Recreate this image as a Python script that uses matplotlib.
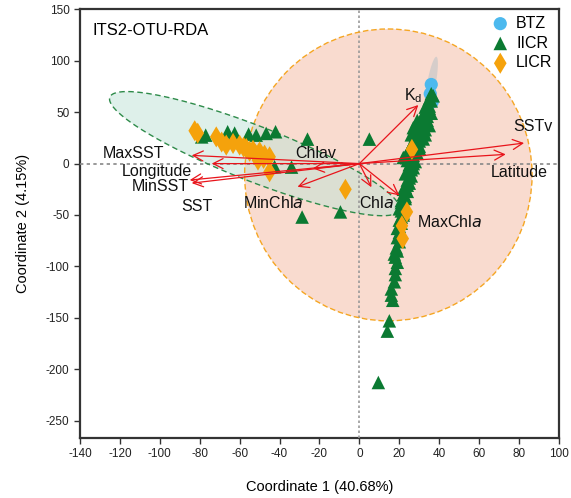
import matplotlib.pyplot as plt
import matplotlib
import numpy as np
from matplotlib.patches import Ellipse, Polygon

matplotlib.rcParams['font.family'] = ['Liberation Sans', 'DejaVu Sans']
matplotlib.rcParams['axes.unicode_minus'] = False

# sample scores
btz_x = [36, 35.5, 36.5]
btz_y = [77, 68, 60]

iicr_x = [-77, -79, -66, -62.5, -55.5, -51.7, -46.7, -42, -26, -34, -42.5, -28.7, -9.5, 5,
          36, 35, 34, 35, 33, 34, 32, 31, 33, 30, 32, 29, 28, 31, 27, 29, 26, 30, 25, 28,
          24, 27, 22, 26, 28, 25, 27, 25, 26, 24, 25, 23, 24, 22, 23, 21, 22, 21, 22, 20,
          21, 19, 20, 19, 20, 19, 18, 19, 18, 17.5, 16.7, 16, 15, 14, 9.5,
          33, 32, 29, 27, 26, 33, 30,
          37, 36, 35, 34, 36, 33, 34, 32, 35, 31, 33, 30, 29, 32, 28, 30, 27, 29, 23, 26,
          24, 27, 26, 23, 25, 24, 22, 23, 21, 20, 21, 22, 20, 18.5, 17.5, 18, 16]
iicr_y = [27.7, 26, 31, 29.7, 28.7, 27.7, 29.4, 31, 23.8, -3.4, -3, -52, -47, 23.8,
          68, 63, 58, 54, 50, 46, 44, 40, 38, 35, 32, 30, 27, 25, 22, 20, 18, 17, 14, 12,
          10, 8, 6, 4, 2, -1, -4, -8, -12, -16, -19, -23, -27, -30, -34, -38, -42, -46, -50, -55,
          -58, -63, -67, -72, -76, -85, -91, -96, -102, -115, -133, -128, -153, -163, -213,
          55, 48, 42, 35, 28, 28, 22,
          66, 61, 56, 52, 49, 47, 42, 41, 37, 36, 33, 31, 26, 24, 21, 15, 15, 10, 7, 6,
          3, 0, -6, -10, -14, -21, -25, -32, -36, -44, -52, -48, -61, -82, -88, -108, -122]

licr_x = [-82.5, -81, -71.7, -69, -66.7, -63.3, -60, -56.7, -53.3, -50, -47.5, -45, -50.8, -45,
          -58, -55, -52, -48, -7, 26.3, 23.8, 21.3, 21.7]
licr_y = [32, 29.6, 26, 21, 18, 19.6, 18, 14.8, 13, 11.5, 8.3, 6.6, 3.4, -8,
          16, 12, 9, 5, -25, 13.8, -47, -60.5, -73]

# environmental vectors
env_names = ['Kd', 'SSTv', 'Latitude', 'MaxSST', 'Longitude', 'MinSST', 'SST',
             'Chlav', 'MinChla', 'Chla', 'MaxChla']
env_x = [29.5, 82.5, 73.3, -84, -74, -85, -84, -23.3, -31, 6, 20]
env_y = [57, 20, 9, 8, 0, -16, -19, -4.7, -22.6, -23, -31]
label_text = [r'K$_\mathregular{d}$', 'SSTv', 'Latitude', 'MaxSST', 'Longitude', 'MinSST', 'SST',
              'Chlav', r'MinChl$\mathregular{\it{a}}$', r'Chl$\mathregular{\it{a}}$', r'MaxChl$\mathregular{\it{a}}$']
label_x = [22.5, 77, 66, -128.5, -119, -114, -89, -32, -58.5, 0, 29]
label_y = [66, 36, -9, 10, -8, -22, -42, 10, -38.5, -38.5, -57]

# group ellipses: center, semi-axis vectors
ell_centers = [(-52.5, 9.7), (36, 77)]
ell_major = [(72.5, -55), (2.5, 27)]
ell_minor = [(5, 25), (2.2, 0)]

green = '#0b7a32'
orange = '#f5a20c'
blue = '#4cb9ee'
red = '#e8141b'

fig = plt.figure(figsize=(5.71, 4.98), dpi=100)
ax = fig.add_axes([0.14, 0.1205, 0.839, 0.8605])

# LICR big circle
ax.add_patch(Ellipse((14.5, -11), 144, 284, facecolor='#f9dbcf', edgecolor='none', zorder=1))
ax.add_patch(Ellipse((14.5, -11), 144, 284, facecolor='none', edgecolor='#f5a623',
                     linestyle=(0, (4, 2)), lw=1.0, zorder=4))

t = np.linspace(0, 2*np.pi, 200)
c, a, b = ell_centers[0], ell_major[0], ell_minor[0]
px = c[0] + np.cos(t)*a[0] + np.sin(t)*b[0]
py = c[1] + np.cos(t)*a[1] + np.sin(t)*b[1]
ax.add_patch(Polygon(np.column_stack([px, py]), closed=True, facecolor='#bfe3d6', alpha=0.5,
                     edgecolor='none', zorder=2))
ax.plot(px, py, color='#2e8b4a', linestyle=(0, (4, 2.5)), lw=1.0, zorder=4)

c, a, b = ell_centers[1], ell_major[1], ell_minor[1]
px = c[0] + np.cos(t)*a[0] + np.sin(t)*b[0]
py = c[1] + np.cos(t)*a[1] + np.sin(t)*b[1]
ax.add_patch(Polygon(np.column_stack([px, py]), closed=True, facecolor='#c8c8c8', alpha=0.7,
                     edgecolor='none', zorder=2))

ax.axhline(0, color='#888888', linestyle=(0, (2, 2)), lw=1.2, zorder=3)
ax.axvline(0, color='#999999', linestyle=(0, (1.5, 1.5)), lw=1.2, zorder=3)

ax.scatter(btz_x, btz_y, s=90, marker='o', color=blue, edgecolors='none', zorder=5, label='BTZ')
ax.scatter(iicr_x, iicr_y, s=95, marker='^', color=green, edgecolors='none', zorder=6, label='IICR')
ax.scatter(licr_x, licr_y, s=115, marker='d', color=orange, edgecolors='none', zorder=7, label='LICR')

for i in range(len(env_names)):
    ax.annotate('', xy=(env_x[i], env_y[i]), xytext=(0, 0),
                arrowprops=dict(arrowstyle='->', color=red, lw=0.9, mutation_scale=18,
                                shrinkA=0, shrinkB=0), zorder=8)
    ax.text(label_x[i], label_y[i], label_text[i], fontsize=11.5, ha='left', va='center',
            color='#111111', zorder=9)

ax.text(0.027, 0.952, 'ITS2-OTU-RDA', transform=ax.transAxes, fontsize=12, va='center')

ax.set_xlim(-140, 100)
ax.set_ylim(-267, 150)
ax.set_xticks(np.arange(-140, 101, 20))
ax.set_yticks(np.arange(-250, 151, 50))
ax.tick_params(labelsize=8.5, direction='out', length=4, width=1, colors='#333333',
               labelcolor='#222222')
for sp in ax.spines.values():
    sp.set_linewidth(1.6)
    sp.set_color('#333333')

ax.set_xlabel('Coordinate 1 (40.68%)', fontsize=10.5, labelpad=14)
ax.set_ylabel('Coordinate 2 (4.15%)', fontsize=10.5, labelpad=11)

ax.legend(loc='upper right', frameon=False, fontsize=11.5, handletextpad=0.0, labelspacing=0.3,
          borderaxespad=0.1, borderpad=0.3)

plt.savefig('out.png', dpi=100)
